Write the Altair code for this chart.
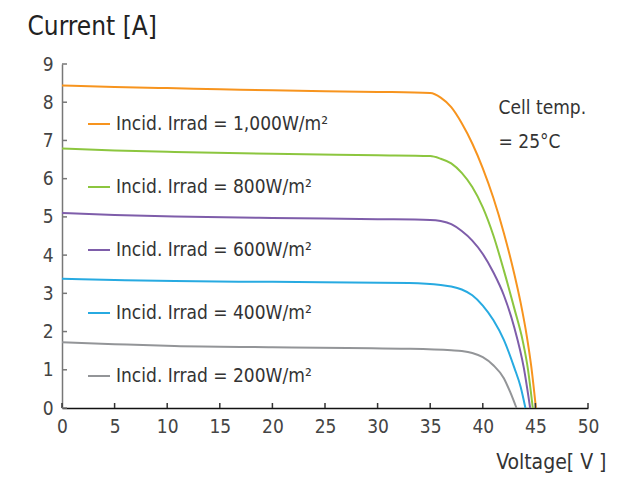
import altair as alt
import pandas as pd

FONT = "DejaVu Sans Condensed, Roboto, sans-serif"

labels = [
    "Incid. Irrad = 1,000W/m\u00b2",
    "Incid. Irrad = 800W/m\u00b2",
    "Incid. Irrad = 600W/m\u00b2",
    "Incid. Irrad = 400W/m\u00b2",
    "Incid. Irrad = 200W/m\u00b2",
]
colors = ["#F7941E", "#8CC63F", "#7E5DAA", "#27AAE1", "#939598"]

v_1000 = [0, 5, 10, 15, 20, 25, 30, 35, 36, 37, 38, 39, 40, 41, 42, 43, 43.6, 44.2, 44.6, 45.05]
i_1000 = [8.44, 8.40, 8.37, 8.34, 8.31, 8.29, 8.27, 8.24, 8.12, 7.87, 7.45, 6.92, 6.27, 5.50, 4.58, 3.50, 2.75, 1.85, 1.10, 0]

v_800 = [0, 5, 10.7, 20, 30, 35, 36, 37, 38, 39, 40, 41, 42, 43, 43.8, 44.3, 44.75]
i_800 = [6.79, 6.74, 6.70, 6.65, 6.61, 6.59, 6.52, 6.40, 6.15, 5.78, 5.25, 4.52, 3.60, 2.60, 1.75, 1.00, 0]

v_600 = [0, 5, 10.7, 20, 30, 35, 36, 37, 38, 39, 40, 41, 42, 43, 43.9, 44.5]
i_600 = [5.10, 5.05, 5.01, 4.97, 4.94, 4.92, 4.89, 4.81, 4.63, 4.38, 4.03, 3.55, 2.95, 2.10, 1.05, 0]

v_400 = [0, 5, 10.7, 20, 33, 36, 37, 38, 39, 40, 41, 42, 43, 43.6, 44.05]
i_400 = [3.38, 3.35, 3.32, 3.30, 3.27, 3.22, 3.18, 3.10, 2.95, 2.68, 2.30, 1.78, 1.05, 0.55, 0]

v_200 = [0, 5, 10.7, 20, 33, 37, 38, 39, 40, 41, 42, 42.6, 43.2]
i_200 = [1.72, 1.67, 1.62, 1.59, 1.55, 1.51, 1.49, 1.44, 1.33, 1.12, 0.78, 0.42, 0]

x_ticks = [0, 5, 10, 15, 20, 25, 30, 35, 40, 45, 50]
y_ticks = [0, 1, 2, 3, 4, 5, 6, 7, 8, 9]

note_lines = ["Cell temp.", "= 25\u00b0C"]
note_v = [41.5]
note_i = [8.08]

series = [(v_1000, i_1000), (v_800, i_800), (v_600, i_600), (v_400, i_400), (v_200, i_200)]
rows = []
for lab, (vs, cs) in zip(labels, series):
    for k, (v, c) in enumerate(zip(vs, cs)):
        rows.append({"series": lab, "V": v, "I": c, "order": k})
df = pd.DataFrame(rows)

W, H = 526, 344

xscale = alt.Scale(domain=[0, 50], nice=False)
yscale = alt.Scale(domain=[0, 9], nice=False)

xaxis = alt.Axis(
    values=x_ticks, ticks=False, grid=False, labelOverlap=False, labelFlush=False,
    labelFontSize=19, labelColor="#444", labelPadding=9, labelFont=FONT,
    domainColor="#111", domainWidth=1.5,
    titleFont=FONT, titleFontSize=21, titleFontWeight="normal",
    titleColor="#333", titleAnchor="end", titleAlign="right", titleBaseline="middle",
    titleX=W + 18, titleY=54)
yaxis = alt.Axis(
    values=y_ticks, ticks=False, grid=False, labelOverlap=False, labelFlush=False,
    labelFontSize=19, labelColor="#444", labelPadding=9, labelFont=FONT,
    domainColor="#777", domainWidth=1.5,
    titleFont=FONT, titleFontSize=26, titleFontWeight="normal",
    titleColor="#222", titleAngle=0, titleAlign="left", titleBaseline="middle",
    titleX=-35, titleY=-38)

XT = "Voltage[ V ]"
YT = "Current [A]"

lines = alt.Chart(df).mark_line(strokeWidth=2, interpolate="monotone").encode(
    x=alt.X("V:Q", scale=xscale, axis=xaxis, title=XT),
    y=alt.Y("I:Q", scale=yscale, axis=yaxis, title=YT),
    color=alt.Color("series:N", scale=alt.Scale(domain=labels, range=colors), legend=alt.Legend(
        title=None, orient="none", legendX=25, legendY=48, symbolType="stroke",
        symbolSize=484, symbolStrokeWidth=2, labelFont=FONT, labelFontSize=19,
        labelColor="#333", rowPadding=41, labelOffset=5, labelLimit=400)),
    order="order:Q",
)

xt = alt.Chart(pd.DataFrame({"t": x_ticks})).mark_rule(color="#333", strokeWidth=1.5).encode(
    x=alt.X("t:Q", scale=xscale, axis=xaxis, title=XT), y=alt.value(H), y2=alt.value(H - 5))
yt = alt.Chart(pd.DataFrame({"t": y_ticks})).mark_rule(color="#777", strokeWidth=1.5).encode(
    y=alt.Y("t:Q", scale=yscale, axis=yaxis, title=YT), x=alt.value(0), x2=alt.value(5))

note = alt.Chart(pd.DataFrame({"V": note_v, "I": note_i, "txt": [note_lines]})).mark_text(
    align="left", baseline="top", font=FONT, fontSize=19, color="#333", lineHeight=34
).encode(x=alt.X("V:Q", scale=xscale, axis=xaxis, title=XT),
         y=alt.Y("I:Q", scale=yscale, axis=yaxis, title=YT), text="txt")

chart = alt.layer(lines, xt, yt, note).properties(
    width=W, height=H,
    autosize=alt.AutoSizeParams(type="none"),
    padding={"left": 62, "top": 64, "right": 44, "bottom": 70},
).configure_view(stroke=None)

chart.save("out.html", embed_options={"renderer": "svg", "actions": False})
